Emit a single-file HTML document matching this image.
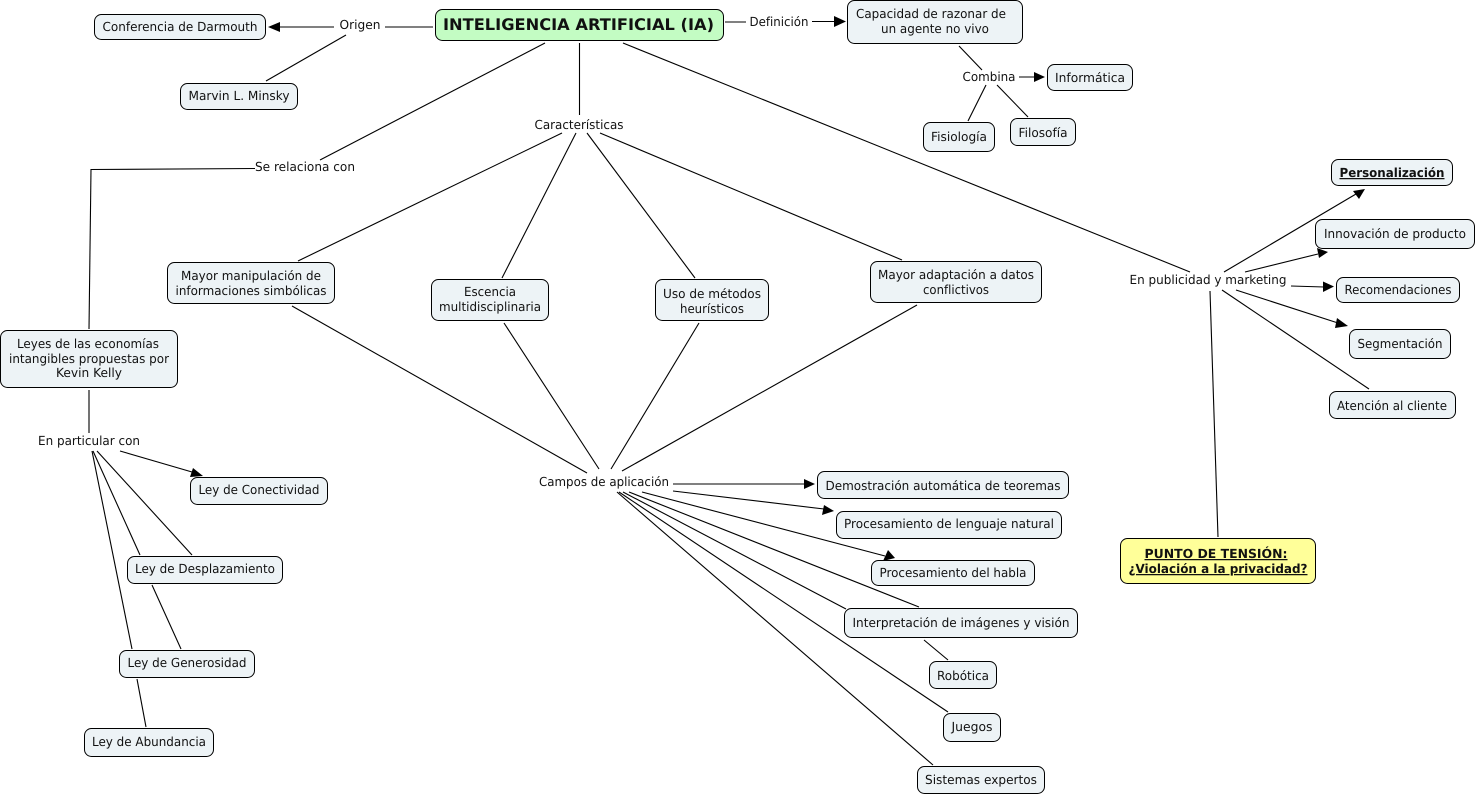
<!DOCTYPE html>
<html lang="es"><head><meta charset="utf-8"><title>Inteligencia Artificial</title>
<style>
html,body{margin:0;padding:0;background:#fff;width:1476px;height:796px;overflow:hidden}
svg{display:block}
text{font-family:"DejaVu Sans","Liberation Sans",sans-serif;font-size:12.5px;fill:#111}
.n{fill:#edf3f6;stroke:#000;stroke-width:1}
.l line{stroke:#000;stroke-width:1.1}
.a polygon{fill:#000}
.u{font-weight:bold;text-decoration:underline}
</style></head><body>
<svg width="1476" height="796" viewBox="0 0 1476 796" xmlns="http://www.w3.org/2000/svg" text-rendering="geometricPrecision">
<rect width="1476" height="796" fill="#fff"/>
<g class="l">
<line x1="433" y1="27" x2="385" y2="27"/><line x1="334" y1="27" x2="280" y2="27"/>
<line x1="346" y1="35" x2="266" y2="81"/>
<line x1="725" y1="22" x2="746" y2="22"/><line x1="812" y1="21.500" x2="835" y2="21.500"/>
<line x1="959" y1="46" x2="982" y2="70"/>
<line x1="1019" y1="77" x2="1036" y2="77"/>
<line x1="986" y1="85" x2="968" y2="121"/>
<line x1="997" y1="85" x2="1028" y2="117"/>
<line x1="545" y1="43" x2="320" y2="160"/>
<line x1="255" y1="168.500" x2="91" y2="169.500"/><line x1="91" y1="169" x2="89" y2="329"/>
<line x1="579.500" y1="43" x2="579.500" y2="115"/>
<line x1="623" y1="43" x2="1190" y2="272"/>
<line x1="562" y1="133" x2="298" y2="261"/>
<line x1="576" y1="133" x2="502" y2="278"/>
<line x1="587" y1="133" x2="695" y2="278"/>
<line x1="600" y1="133" x2="902" y2="260"/>
<line x1="292" y1="306" x2="587" y2="473"/>
<line x1="504" y1="323" x2="599" y2="469"/>
<line x1="699" y1="323" x2="611" y2="469"/>
<line x1="917" y1="305" x2="622" y2="471"/>
<line x1="1224" y1="272" x2="1356" y2="194"/>
<line x1="1245" y1="272" x2="1318" y2="254"/>
<line x1="1291" y1="286" x2="1324" y2="287"/>
<line x1="1236" y1="290" x2="1338" y2="323"/>
<line x1="1222" y1="290" x2="1369" y2="389"/>
<line x1="1210" y1="291" x2="1218" y2="537"/>
<line x1="89" y1="390" x2="89" y2="433"/>
<line x1="120" y1="451" x2="192" y2="472"/>
<line x1="97" y1="451" x2="192" y2="555"/>
<line x1="93" y1="451" x2="140" y2="555"/>
<line x1="152" y1="585" x2="181" y2="649"/>
<line x1="92" y1="451" x2="132" y2="649"/>
<line x1="137" y1="679" x2="146" y2="727"/>
<line x1="673" y1="484" x2="804" y2="484"/>
<line x1="673" y1="491" x2="824" y2="509"/>
<line x1="642" y1="492" x2="885" y2="556"/>
<line x1="629" y1="492" x2="919" y2="607"/>
<line x1="623" y1="492" x2="846" y2="609"/>
<line x1="924" y1="640" x2="948" y2="660"/>
<line x1="619" y1="492" x2="948" y2="712"/>
<line x1="617" y1="492" x2="933" y2="765"/>
</g>
<g class="a">
<polygon points="268,27 280,22 280,32"/>
<polygon points="846,21.500 834,16 834,27"/>
<polygon points="1045,77 1034,72 1034,82"/>
<polygon points="1365,189 1353,191 1359,199"/>
<polygon points="1328,252 1317,248 1319,258"/>
<polygon points="1334,286.500 1323,281.500 1323,292"/>
<polygon points="1348,326 1337,318 1335,328"/>
<polygon points="203,476 193,468 190,477"/>
<polygon points="815,484 804,479 804,489"/>
<polygon points="834,511 824,505 822,515"/>
<polygon points="895,558 888,550 883,561"/>
</g>
<rect x="435.500" y="9.500" width="288" height="31" rx="7" fill="#c3fcc3" stroke="#000"/>
<text x="578.500" y="30" text-anchor="middle" textLength="271" lengthAdjust="spacingAndGlyphs" style="font-weight:bold;font-size:16px">INTELIGENCIA ARTIFICIAL (IA)</text>
<rect class="n" x="94.500" y="14.500" width="171" height="25" rx="7"/><text x="180" y="31" text-anchor="middle" textLength="155" lengthAdjust="spacingAndGlyphs">Conferencia de Darmouth</text>
<rect class="n" x="180.500" y="83.500" width="117" height="26" rx="7"/><text x="239" y="100" text-anchor="middle" textLength="101" lengthAdjust="spacingAndGlyphs">Marvin L. Minsky</text>
<rect class="n" x="847.500" y="0.500" width="175" height="43" rx="7"/>
<text x="931" y="18" text-anchor="middle" textLength="150" lengthAdjust="spacingAndGlyphs">Capacidad de razonar de</text>
<text x="935" y="33" text-anchor="middle" textLength="108" lengthAdjust="spacingAndGlyphs">un agente no vivo</text>
<rect class="n" x="1047.500" y="64.500" width="85" height="26" rx="7"/><text x="1090" y="82" text-anchor="middle" textLength="70" lengthAdjust="spacingAndGlyphs">Informática</text>
<rect class="n" x="923.500" y="122.500" width="71" height="29" rx="7"/><text x="959" y="141" text-anchor="middle" textLength="56" lengthAdjust="spacingAndGlyphs">Fisiología</text>
<rect class="n" x="1010.500" y="118.500" width="65" height="27" rx="7"/><text x="1043" y="137" text-anchor="middle" textLength="49" lengthAdjust="spacingAndGlyphs">Filosofía</text>
<rect class="n" x="1331.500" y="159.500" width="121" height="26" rx="7"/><text class="u" x="1392" y="177" text-anchor="middle" textLength="105" lengthAdjust="spacingAndGlyphs">Personalización</text>
<rect class="n" x="1315.500" y="219.500" width="159" height="29" rx="7"/><text x="1395" y="238" text-anchor="middle" textLength="142" lengthAdjust="spacingAndGlyphs">Innovación de producto</text>
<rect class="n" x="1336.500" y="277.500" width="123" height="25" rx="7"/><text x="1398" y="294" text-anchor="middle" textLength="107" lengthAdjust="spacingAndGlyphs">Recomendaciones</text>
<rect class="n" x="1349.500" y="329.500" width="101" height="29" rx="7"/><text x="1400" y="348" text-anchor="middle" textLength="85" lengthAdjust="spacingAndGlyphs">Segmentación</text>
<rect class="n" x="1329.500" y="391.500" width="126" height="27" rx="7"/><text x="1392" y="410" text-anchor="middle" textLength="110" lengthAdjust="spacingAndGlyphs">Atención al cliente</text>
<rect class="n" x="167.500" y="262.500" width="167" height="41" rx="7"/>
<text x="251" y="280" text-anchor="middle" textLength="140" lengthAdjust="spacingAndGlyphs">Mayor manipulación de</text>
<text x="251" y="295" text-anchor="middle" textLength="151" lengthAdjust="spacingAndGlyphs">informaciones simbólicas</text>
<rect class="n" x="431.500" y="279.500" width="117" height="41" rx="7"/>
<text x="490" y="296" text-anchor="middle" textLength="52" lengthAdjust="spacingAndGlyphs">Escencia</text>
<text x="490" y="311" text-anchor="middle" textLength="102" lengthAdjust="spacingAndGlyphs">multidisciplinaria</text>
<rect class="n" x="655.500" y="279.500" width="113" height="41" rx="7"/>
<text x="712" y="298" text-anchor="middle" textLength="98" lengthAdjust="spacingAndGlyphs">Uso de métodos</text>
<text x="712" y="313" text-anchor="middle" textLength="64" lengthAdjust="spacingAndGlyphs">heurísticos</text>
<rect class="n" x="870.500" y="261.500" width="171" height="41" rx="7"/>
<text x="956" y="279" text-anchor="middle" textLength="156" lengthAdjust="spacingAndGlyphs">Mayor adaptación a datos</text>
<text x="956" y="294" text-anchor="middle" textLength="66" lengthAdjust="spacingAndGlyphs">conflictivos</text>
<rect class="n" x="0.500" y="330.500" width="177" height="57" rx="7"/>
<text x="88" y="348" text-anchor="middle" textLength="142" lengthAdjust="spacingAndGlyphs">Leyes de las economías</text>
<text x="89" y="363" text-anchor="middle" textLength="160" lengthAdjust="spacingAndGlyphs">intangibles propuestas por</text>
<text x="89" y="377" text-anchor="middle" textLength="66" lengthAdjust="spacingAndGlyphs">Kevin Kelly</text>
<rect class="n" x="190.500" y="477.500" width="137" height="27" rx="7"/><text x="259" y="494" text-anchor="middle" textLength="121" lengthAdjust="spacingAndGlyphs">Ley de Conectividad</text>
<rect class="n" x="127.500" y="556.500" width="155" height="27" rx="7"/><text x="205" y="573" text-anchor="middle" textLength="140" lengthAdjust="spacingAndGlyphs">Ley de Desplazamiento</text>
<rect class="n" x="119.500" y="650.500" width="135" height="27" rx="7"/><text x="187" y="667" text-anchor="middle" textLength="119" lengthAdjust="spacingAndGlyphs">Ley de Generosidad</text>
<rect class="n" x="84.500" y="728.500" width="129" height="28" rx="7"/><text x="149" y="746" text-anchor="middle" textLength="114" lengthAdjust="spacingAndGlyphs">Ley de Abundancia</text>
<rect class="n" x="817.500" y="471.500" width="251" height="27" rx="7"/><text x="943" y="490" text-anchor="middle" textLength="235" lengthAdjust="spacingAndGlyphs">Demostración automática de teoremas</text>
<rect class="n" x="836.500" y="511.500" width="225" height="27" rx="7"/><text x="949" y="528" text-anchor="middle" textLength="210" lengthAdjust="spacingAndGlyphs">Procesamiento de lenguaje natural</text>
<rect class="n" x="871.500" y="560.500" width="163" height="25" rx="7"/><text x="953" y="577" text-anchor="middle" textLength="147" lengthAdjust="spacingAndGlyphs">Procesamiento del habla</text>
<rect class="n" x="844.500" y="608.500" width="233" height="29" rx="7"/><text x="961" y="627" text-anchor="middle" textLength="217" lengthAdjust="spacingAndGlyphs">Interpretación de imágenes y visión</text>
<rect class="n" x="929.500" y="661.500" width="67" height="27" rx="7"/><text x="963" y="680" text-anchor="middle" textLength="52" lengthAdjust="spacingAndGlyphs">Robótica</text>
<rect class="n" x="943.500" y="713.500" width="57" height="28" rx="7"/><text x="972" y="731" text-anchor="middle" textLength="41" lengthAdjust="spacingAndGlyphs">Juegos</text>
<rect class="n" x="917.500" y="766.500" width="127" height="27" rx="7"/><text x="981" y="784" text-anchor="middle" textLength="112" lengthAdjust="spacingAndGlyphs">Sistemas expertos</text>
<rect x="1120.500" y="538.500" width="195" height="45" rx="7" fill="#ffff99" stroke="#000"/>
<text class="u" x="1216" y="558" text-anchor="middle" textLength="143" lengthAdjust="spacingAndGlyphs">PUNTO DE TENSIÓN: </text>
<text class="u" x="1218" y="573" text-anchor="middle" textLength="179" lengthAdjust="spacingAndGlyphs">¿Violación a la privacidad?</text>
<text x="360" y="29" text-anchor="middle" textLength="41" lengthAdjust="spacingAndGlyphs">Origen</text>
<text x="779" y="26" text-anchor="middle" textLength="59" lengthAdjust="spacingAndGlyphs">Definición</text>
<text x="989" y="81" text-anchor="middle" textLength="53" lengthAdjust="spacingAndGlyphs">Combina</text>
<text x="579" y="129" text-anchor="middle" textLength="89" lengthAdjust="spacingAndGlyphs">Características</text>
<text x="305" y="171" text-anchor="middle" textLength="100" lengthAdjust="spacingAndGlyphs">Se relaciona con</text>
<text x="1208" y="284" text-anchor="middle" textLength="157" lengthAdjust="spacingAndGlyphs">En publicidad y marketing</text>
<text x="89" y="445" text-anchor="middle" textLength="102" lengthAdjust="spacingAndGlyphs">En particular con</text>
<text x="604" y="486" text-anchor="middle" textLength="130" lengthAdjust="spacingAndGlyphs">Campos de aplicación</text>
</svg>
</body></html>
